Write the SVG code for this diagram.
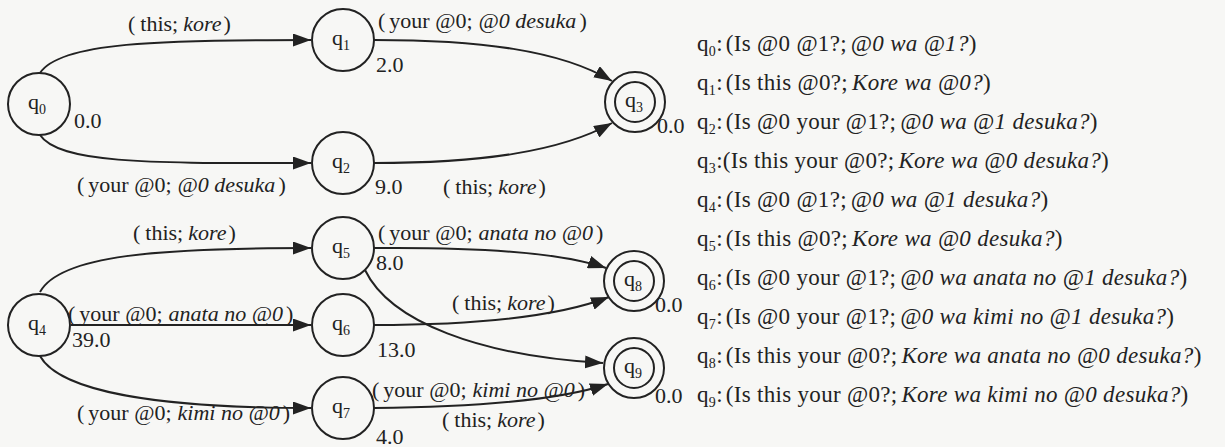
<svg xmlns="http://www.w3.org/2000/svg" width="1225" height="447" viewBox="0 0 1225 447">
<style>
text{font-family:"Liberation Serif","Times New Roman",serif;font-size:22px;fill:#222}
.l text{font-size:23px;letter-spacing:0.3px}
.i{font-style:italic}
.s{font-size:14px}
circle{fill:none;stroke:#222;stroke-width:2}
.e{fill:none;stroke:#222;stroke-width:2}
</style>
<defs>
<marker id="ah" markerUnits="userSpaceOnUse" markerWidth="18" markerHeight="13" refX="18" refY="6.5" orient="auto">
<path d="M0,0 L18,6.5 L0,13 Z" fill="#222"/>
</marker>
</defs>
<rect width="1225" height="447" fill="#f7f7f5"/>
<g id="connectors">
<path class="e" d="M40,73 C60,42 160,40 311,40" marker-end="url(#ah)"/>
<path class="e" d="M40,135 C60,165 160,163 311,163" marker-end="url(#ah)"/>
<path class="e" d="M374,40 C480,40 560,50 612,81" marker-end="url(#ah)"/>
<path class="e" d="M374,163 C480,163 560,152 612,123" marker-end="url(#ah)"/>
<path class="e" d="M40,292 C60,255 160,248 311,248" marker-end="url(#ah)"/>
<path class="e" d="M71,325 L311,325" marker-end="url(#ah)"/>
<path class="e" d="M40,356 C60,392 160,408 311,408" marker-end="url(#ah)"/>
<path class="e" d="M374,248 C480,247 560,252 606,268" marker-end="url(#ah)"/>
<path class="e" d="M374,325 C480,325 560,316 609,297" marker-end="url(#ah)"/>
<path class="e" d="M365,270 C390,322 480,356 603,363" marker-end="url(#ah)"/>
<path class="e" d="M374,408 C480,407 560,400 608,384" marker-end="url(#ah)"/>
</g>
<g id="q0"><circle cx="39" cy="104" r="31"/><text x="28" y="109">q<tspan class="s" dy="5">0</tspan></text></g>
<g id="q1"><circle cx="343" cy="40" r="31"/><text x="332" y="45">q<tspan class="s" dy="5">1</tspan></text></g>
<g id="q2"><circle cx="343" cy="163" r="31"/><text x="332" y="168">q<tspan class="s" dy="5">2</tspan></text></g>
<g id="q3"><circle cx="635" cy="102" r="30"/><circle cx="635" cy="102" r="20"/><text x="625" y="107">q<tspan class="s" dy="5">3</tspan></text></g>
<g id="q4"><circle cx="39" cy="325" r="31"/><text x="28" y="330">q<tspan class="s" dy="5">4</tspan></text></g>
<g id="q5"><circle cx="343" cy="248" r="31"/><text x="332" y="253">q<tspan class="s" dy="5">5</tspan></text></g>
<g id="q6"><circle cx="343" cy="325" r="31"/><text x="332" y="330">q<tspan class="s" dy="5">6</tspan></text></g>
<g id="q7"><circle cx="343" cy="408" r="31"/><text x="332" y="413">q<tspan class="s" dy="5">7</tspan></text></g>
<g id="q8"><circle cx="634" cy="281" r="30"/><circle cx="634" cy="281" r="20"/><text x="624" y="286">q<tspan class="s" dy="5">8</tspan></text></g>
<g id="q9"><circle cx="634" cy="368" r="30"/><circle cx="634" cy="368" r="20"/><text x="624" y="373">q<tspan class="s" dy="5">9</tspan></text></g>
<g id="edge-labels">
<text x="128" y="31">(<tspan dx="5">this;</tspan><tspan class="i" dx="5">kore</tspan><tspan dx="2">)</tspan></text>
<text x="74" y="128">0.0</text>
<text x="77" y="192">(<tspan dx="4">your @0;</tspan><tspan class="i" dx="6">@0 desuka</tspan><tspan dx="3">)</tspan></text>
<text x="378" y="28">(<tspan dx="4">your @0;</tspan><tspan class="i" dx="6">@0 desuka</tspan><tspan dx="3">)</tspan></text>
<text x="376" y="72">2.0</text>
<text x="375" y="194">9.0</text>
<text x="443" y="194">(<tspan dx="5">this;</tspan><tspan class="i" dx="5">kore</tspan><tspan dx="2">)</tspan></text>
<text x="657" y="133">0.0</text>
<text x="133" y="240">(<tspan dx="5">this;</tspan><tspan class="i" dx="5">kore</tspan><tspan dx="2">)</tspan></text>
<text x="68" y="321">(<tspan dx="4">your @0;</tspan><tspan class="i" dx="6">anata no @0</tspan><tspan dx="3">)</tspan></text>
<text x="72" y="347">39.0</text>
<text x="77" y="420">(<tspan dx="4">your @0;</tspan><tspan class="i" dx="6">kimi no @0</tspan><tspan dx="3">)</tspan></text>
<text x="378" y="240">(<tspan dx="4">your @0;</tspan><tspan class="i" dx="6">anata no @0</tspan><tspan dx="3">)</tspan></text>
<text x="376" y="270">8.0</text>
<text x="452" y="310">(<tspan dx="5">this;</tspan><tspan class="i" dx="5">kore</tspan><tspan dx="2">)</tspan></text>
<text x="377" y="357">13.0</text>
<text x="655" y="312">0.0</text>
<text x="372" y="397">(<tspan dx="4">your @0;</tspan><tspan class="i" dx="6">kimi no @0</tspan><tspan dx="3">)</tspan></text>
<text x="442" y="427">(<tspan dx="5">this;</tspan><tspan class="i" dx="5">kore</tspan><tspan dx="2">)</tspan></text>
<text x="376" y="444">4.0</text>
<text x="655" y="403">0.0</text>
</g>
<g id="legend" class="l">
<text x="697" y="51">q<tspan class="s" dy="5">0</tspan><tspan dy="-5">:</tspan><tspan dx="3">(Is @0 @1?;</tspan><tspan class="i" dx="4">@0 wa @1?</tspan>)</text>
<text x="697" y="90">q<tspan class="s" dy="5">1</tspan><tspan dy="-5">:</tspan><tspan dx="3">(Is this @0?;</tspan><tspan class="i" dx="4">Kore wa @0?</tspan>)</text>
<text x="697" y="129">q<tspan class="s" dy="5">2</tspan><tspan dy="-5">:</tspan><tspan dx="3">(Is @0 your @1?;</tspan><tspan class="i" dx="4">@0 wa @1 desuka?</tspan>)</text>
<text x="697" y="168">q<tspan class="s" dy="5">3</tspan><tspan dy="-5">:(Is this your @0?;</tspan><tspan class="i" dx="4">Kore wa @0 desuka?</tspan>)</text>
<text x="697" y="207">q<tspan class="s" dy="5">4</tspan><tspan dy="-5">:</tspan><tspan dx="3">(Is @0 @1?;</tspan><tspan class="i" dx="4">@0 wa @1 desuka?</tspan>)</text>
<text x="697" y="246">q<tspan class="s" dy="5">5</tspan><tspan dy="-5">:</tspan><tspan dx="3">(Is this @0?;</tspan><tspan class="i" dx="4">Kore wa @0 desuka?</tspan>)</text>
<text x="697" y="285">q<tspan class="s" dy="5">6</tspan><tspan dy="-5">:</tspan><tspan dx="3">(Is @0 your @1?;</tspan><tspan class="i" dx="4">@0 wa anata no @1 desuka?</tspan>)</text>
<text x="697" y="324">q<tspan class="s" dy="5">7</tspan><tspan dy="-5">:</tspan><tspan dx="3">(Is @0 your @1?;</tspan><tspan class="i" dx="4">@0 wa kimi no @1 desuka?</tspan>)</text>
<text x="697" y="363">q<tspan class="s" dy="5">8</tspan><tspan dy="-5">:</tspan><tspan dx="3">(Is this your @0?;</tspan><tspan class="i" dx="4">Kore wa anata no @0 desuka?</tspan>)</text>
<text x="697" y="402">q<tspan class="s" dy="5">9</tspan><tspan dy="-5">:</tspan><tspan dx="3">(Is this your @0?;</tspan><tspan class="i" dx="4">Kore wa kimi no @0 desuka?</tspan>)</text>
</g>
</svg>
